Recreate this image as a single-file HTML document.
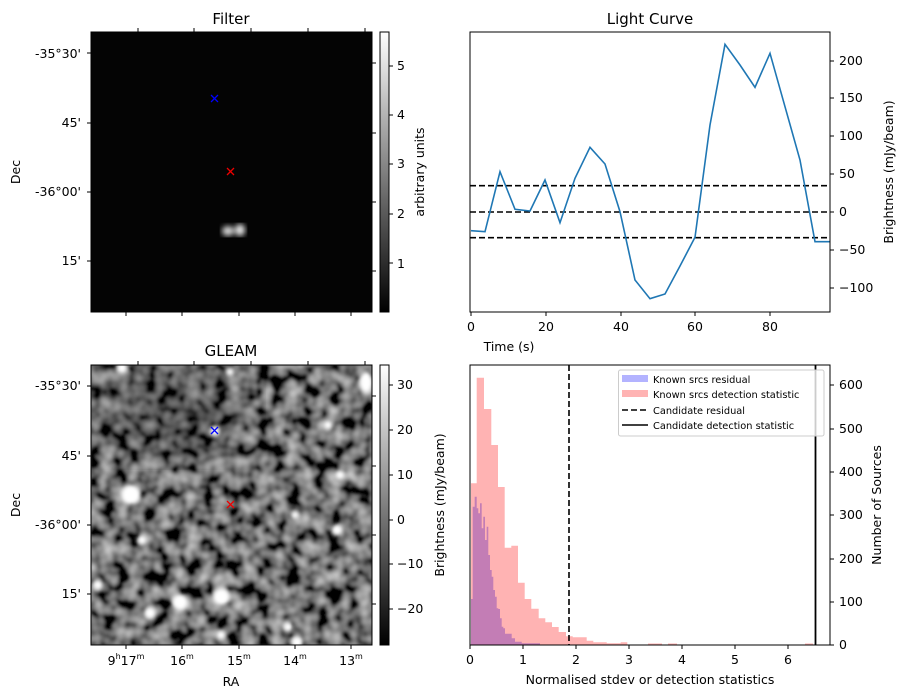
<!DOCTYPE html>
<html><head><meta charset="utf-8"><style>
html,body{margin:0;padding:0;background:#fff;}
svg{display:block;font-family:"DejaVu Sans","Liberation Sans",sans-serif;}
</style></head><body>
<svg width="907" height="699" viewBox="0 0 907 699" xmlns="http://www.w3.org/2000/svg">
<defs>
<linearGradient id="gcb" x1="0" y1="1" x2="0" y2="0"><stop offset="0" stop-color="#000"/><stop offset="1" stop-color="#fff"/></linearGradient>
<filter id="turb" x="0" y="0" width="100%" height="100%">
<feTurbulence type="fractalNoise" baseFrequency="0.07" numOctaves="2" seed="3" result="t"/>
<feColorMatrix in="t" type="matrix" values="1.1 0 0 0 -0.38  1.1 0 0 0 -0.38  1.1 0 0 0 -0.38  0 0 0 0 1" result="c"/>
<feGaussianBlur in="c" stdDeviation="1"/>
</filter>
<filter id="blur2"><feGaussianBlur stdDeviation="2"/></filter>
<filter id="blur3"><feGaussianBlur stdDeviation="3"/></filter>
<filter id="blur20"><feGaussianBlur stdDeviation="20"/></filter>
<clipPath id="cg"><rect x="91" y="365" width="281" height="280"/></clipPath>
</defs>

<!-- ===== Filter panel ===== -->
<text x="231" y="24" font-size="15" text-anchor="middle">Filter</text>
<rect x="91" y="32" width="281" height="280" fill="#040404"/>
<g filter="url(#blur3)">
<ellipse cx="228" cy="231" rx="6" ry="5" fill="#ddd"/>
<ellipse cx="240" cy="230" rx="5" ry="6" fill="#eee"/>
</g>
<rect x="91" y="32" width="281" height="280" fill="none" stroke="#000" stroke-width="1"/>
<g stroke="#000">
<line x1="138" y1="32" x2="138" y2="28"/><line x1="194" y1="32" x2="194" y2="28"/><line x1="251" y1="32" x2="251" y2="28"/><line x1="308" y1="32" x2="308" y2="28"/><line x1="365" y1="32" x2="365" y2="28"/>
<line x1="126" y1="312" x2="126" y2="316"/><line x1="182" y1="312" x2="182" y2="316"/><line x1="239" y1="312" x2="239" y2="316"/><line x1="295" y1="312" x2="295" y2="316"/><line x1="351" y1="312" x2="351" y2="316"/>
<line x1="91" y1="53" x2="87" y2="53"/><line x1="91" y1="123" x2="87" y2="123"/><line x1="91" y1="192" x2="87" y2="192"/><line x1="91" y1="261" x2="87" y2="261"/>
<line x1="372" y1="63" x2="376" y2="63"/><line x1="372" y1="133" x2="376" y2="133"/><line x1="372" y1="202" x2="376" y2="202"/><line x1="372" y1="271" x2="376" y2="271"/>
</g>
<g font-size="12.5" text-anchor="end">
<text x="81" y="58">-35°30'</text><text x="81" y="127">45'</text><text x="81" y="196">-36°00'</text><text x="81" y="265">15'</text>
</g>
<text transform="translate(20,172) rotate(-90)" font-size="12.5" text-anchor="middle">Dec</text>
<g stroke-width="1.3" fill="none">
<path d="M211,95 l7,7 M218,95 l-7,7" stroke="#00f"/>
<path d="M227,168 l7,7 M234,168 l-7,7" stroke="#e00"/>
</g>
<rect x="380" y="32" width="9" height="280" fill="url(#gcb)" stroke="#000"/>
<g stroke="#000"><line x1="389" y1="66" x2="393" y2="66"/><line x1="389" y1="115" x2="393" y2="115"/><line x1="389" y1="164" x2="393" y2="164"/><line x1="389" y1="214" x2="393" y2="214"/><line x1="389" y1="263" x2="393" y2="263"/></g>
<g font-size="12.5"><text x="397" y="70">5</text><text x="397" y="119">4</text><text x="397" y="168">3</text><text x="397" y="218">2</text><text x="397" y="268">1</text></g>
<text transform="translate(424,172) rotate(-90)" font-size="12.5" text-anchor="middle">arbitrary units</text>

<!-- ===== GLEAM panel ===== -->
<text x="231" y="356" font-size="15" text-anchor="middle">GLEAM</text>
<g clip-path="url(#cg)">
<rect x="91" y="365" width="281" height="280" fill="#555"/>
<rect x="91" y="365" width="281" height="280" filter="url(#turb)"/>
<ellipse cx="170" cy="410" rx="80" ry="50" fill="#000" opacity="0.25" filter="url(#blur20)"/>
<g fill="#fff" filter="url(#blur2)">
<circle cx="131" cy="495" r="10"/><circle cx="180" cy="602" r="8"/><circle cx="221" cy="597" r="9"/>
<circle cx="150" cy="613" r="6"/><ellipse cx="366" cy="382" rx="7" ry="11"/><circle cx="337" cy="530" r="6"/>
<circle cx="328" cy="425" r="5"/><circle cx="340" cy="475" r="5"/><circle cx="215" cy="431" r="5"/>
<circle cx="98" cy="585" r="5"/><circle cx="288" cy="627" r="5"/><circle cx="297" cy="642" r="6"/>
<circle cx="221" cy="635" r="5"/><circle cx="295" cy="515" r="4"/><circle cx="142" cy="540" r="5"/>
<circle cx="122" cy="368" r="6"/><circle cx="230" cy="372" r="4"/>
</g>
</g>
<rect x="91" y="365" width="281" height="280" fill="none" stroke="#000"/>
<g stroke="#000">
<line x1="138" y1="365" x2="138" y2="361"/><line x1="194" y1="365" x2="194" y2="361"/><line x1="251" y1="365" x2="251" y2="361"/><line x1="308" y1="365" x2="308" y2="361"/><line x1="365" y1="365" x2="365" y2="361"/>
<line x1="126" y1="645" x2="126" y2="649"/><line x1="182" y1="645" x2="182" y2="649"/><line x1="239" y1="645" x2="239" y2="649"/><line x1="295" y1="645" x2="295" y2="649"/><line x1="351" y1="645" x2="351" y2="649"/>
<line x1="91" y1="386" x2="87" y2="386"/><line x1="91" y1="456" x2="87" y2="456"/><line x1="91" y1="525" x2="87" y2="525"/><line x1="91" y1="594" x2="87" y2="594"/>
<line x1="372" y1="396" x2="376" y2="396"/><line x1="372" y1="466" x2="376" y2="466"/><line x1="372" y1="535" x2="376" y2="535"/><line x1="372" y1="604" x2="376" y2="604"/>
</g>
<g font-size="12.5" text-anchor="end">
<text x="81" y="390">-35°30'</text><text x="81" y="460">45'</text><text x="81" y="529">-36°00'</text><text x="81" y="598">15'</text>
</g>
<text transform="translate(20,505) rotate(-90)" font-size="12.5" text-anchor="middle">Dec</text>
<g font-size="12.5" text-anchor="middle">
<text x="126" y="665">9<tspan font-size="8" dy="-6">h</tspan><tspan dy="6">17</tspan><tspan font-size="8" dy="-6">m</tspan></text>
<text x="182" y="665">16<tspan font-size="8" dy="-6">m</tspan></text>
<text x="239" y="665">15<tspan font-size="8" dy="-6">m</tspan></text>
<text x="295" y="665">14<tspan font-size="8" dy="-6">m</tspan></text>
<text x="351" y="665">13<tspan font-size="8" dy="-6">m</tspan></text>
<text x="231" y="686">RA</text>
</g>
<g stroke-width="1.3" fill="none">
<path d="M211,427 l7,7 M218,427 l-7,7" stroke="#00f"/>
<path d="M227,501 l7,7 M234,501 l-7,7" stroke="#e00"/>
</g>
<rect x="380" y="365" width="9" height="280" fill="url(#gcb)" stroke="#000"/>
<g stroke="#000"><line x1="389" y1="385" x2="393" y2="385"/><line x1="389" y1="430" x2="393" y2="430"/><line x1="389" y1="475" x2="393" y2="475"/><line x1="389" y1="520" x2="393" y2="520"/><line x1="389" y1="564" x2="393" y2="564"/><line x1="389" y1="609" x2="393" y2="609"/></g>
<g font-size="12.5"><text x="397" y="389">30</text><text x="397" y="434">20</text><text x="397" y="479">10</text><text x="397" y="524">0</text><text x="397" y="568">−10</text><text x="397" y="613">−20</text></g>
<text transform="translate(444,505) rotate(-90)" font-size="12.5" text-anchor="middle">Brightness (mJy/beam)</text>

<!-- ===== Light curve ===== -->
<text x="650" y="24" font-size="15" text-anchor="middle">Light Curve</text>
<g stroke="#000" stroke-width="1.6" stroke-dasharray="6,3">
<line x1="470" y1="185.7" x2="830" y2="185.7"/><line x1="470" y1="212" x2="830" y2="212"/><line x1="470" y1="237.7" x2="830" y2="237.7"/>
</g>
<polyline fill="none" stroke="#1f77b4" stroke-width="1.6" points="471,230.7 485,231.7 500,171.7 515,209.3 530,211 545,180 560,222.7 575,178.3 590,147.3 605,164 620,211.7 635,280 650,298.7 665,294 680,266 695,237.3 710,125 725,44.3 740,65 755,87.3 770,53.3 785,106.7 800,160 815,241.7 830,241.7"/>
<rect x="470" y="32" width="360" height="280" fill="none" stroke="#000"/>
<g stroke="#000">
<line x1="471" y1="312" x2="471" y2="316"/><line x1="546" y1="312" x2="546" y2="316"/><line x1="621" y1="312" x2="621" y2="316"/><line x1="695" y1="312" x2="695" y2="316"/><line x1="770" y1="312" x2="770" y2="316"/>
<line x1="830" y1="61" x2="834" y2="61"/><line x1="830" y1="98" x2="834" y2="98"/><line x1="830" y1="136" x2="834" y2="136"/><line x1="830" y1="174" x2="834" y2="174"/><line x1="830" y1="212" x2="834" y2="212"/><line x1="830" y1="250" x2="834" y2="250"/><line x1="830" y1="288" x2="834" y2="288"/>
</g>
<g font-size="12.5" text-anchor="middle"><text x="471" y="331">0</text><text x="546" y="331">20</text><text x="621" y="331">40</text><text x="695" y="331">60</text><text x="770" y="331">80</text><text x="509" y="351">Time (s)</text></g>
<g font-size="12.5"><text x="839" y="65">200</text><text x="839" y="102">150</text><text x="839" y="140">100</text><text x="839" y="178">50</text><text x="839" y="216">0</text><text x="839" y="254">−50</text><text x="839" y="292">−100</text></g>
<text transform="translate(893,172) rotate(-90)" font-size="12.5" text-anchor="middle">Brightness (mJy/beam)</text>

<!-- ===== Histogram ===== -->
<path fill="#ffb3b3" d="M471,645 V483.3 H476.7 V377.7 H484 V409 H491.3 V445 H498 V487 H504.7 V547.7 H511.3 V545.7 H518 V582.7 H524.7 V599 H531.3 V608.7 H538.7 V618.3 H545.3 V622.3 H552 V627 H558.7 V632 H566 V636.3 H572.7 V637.3 H586.7 V640.7 H593.3 V642.3 H606.7 V643.3 H620.7 V642.3 H627.3 V645 Z M648,645 V643.5 H662 V645 Z M668,645 V643.5 H677 V645 Z M805,645 V643.5 H813 V645 Z"/>
<path fill="#c37db5" d="M471,645 V599 H472.7 V506.7 H474.7 V496.7 H476.7 V508.3 H478.3 V513.3 H480 V503.3 H481.7 V528.3 H483.3 V516.7 H485 V540 H486.7 V526.7 H488.3 V555 H490 V570 H491.7 V576.7 H493.3 V590 H495 V596.7 H496.7 V608.3 H498.3 V609 H500 V618.3 H501.7 V626.7 H503.3 V628.3 H505 V633.7 H511.7 V638.3 H515 V641.7 H521.7 V643.3 H540 V645 Z"/>
<line x1="569" y1="365" x2="569" y2="645" stroke="#000" stroke-width="1.6" stroke-dasharray="6,3"/>
<line x1="815.5" y1="365" x2="815.5" y2="645" stroke="#000" stroke-width="1.8"/>
<rect x="470" y="365" width="360" height="280" fill="none" stroke="#000"/>
<g stroke="#000">
<line x1="470" y1="645" x2="470" y2="649"/><line x1="523" y1="645" x2="523" y2="649"/><line x1="576" y1="645" x2="576" y2="649"/><line x1="629" y1="645" x2="629" y2="649"/><line x1="682" y1="645" x2="682" y2="649"/><line x1="735" y1="645" x2="735" y2="649"/><line x1="788" y1="645" x2="788" y2="649"/>
<line x1="830" y1="385" x2="834" y2="385"/><line x1="830" y1="429" x2="834" y2="429"/><line x1="830" y1="472" x2="834" y2="472"/><line x1="830" y1="515" x2="834" y2="515"/><line x1="830" y1="559" x2="834" y2="559"/><line x1="830" y1="602" x2="834" y2="602"/><line x1="830" y1="645" x2="834" y2="645"/>
</g>
<g font-size="12.5" text-anchor="middle"><text x="470" y="664">0</text><text x="523" y="664">1</text><text x="576" y="664">2</text><text x="629" y="664">3</text><text x="682" y="664">4</text><text x="735" y="664">5</text><text x="788" y="664">6</text><text x="650" y="684">Normalised stdev or detection statistics</text></g>
<g font-size="12.5"><text x="839" y="389">600</text><text x="839" y="433">500</text><text x="839" y="476">400</text><text x="839" y="519">300</text><text x="839" y="563">200</text><text x="839" y="606">100</text><text x="839" y="649">0</text></g>
<text transform="translate(881,505) rotate(-90)" font-size="12.5" text-anchor="middle">Number of Sources</text>
<!-- legend -->
<rect x="618.5" y="370" width="205.5" height="66" rx="2" fill="#fff" fill-opacity="0.8" stroke="#ccc"/>
<rect x="622" y="375" width="26" height="7" fill="#b3b3ff"/>
<rect x="622" y="390" width="26" height="7" fill="#ffb3b3"/>
<line x1="622" y1="410" x2="648" y2="410" stroke="#000" stroke-width="1.6" stroke-dasharray="6,3"/>
<line x1="622" y1="425" x2="648" y2="425" stroke="#000" stroke-width="1.6"/>
<g font-size="9.8"><text x="653" y="383">Known srcs residual</text><text x="653" y="398">Known srcs detection statistic</text><text x="653" y="414">Candidate residual</text><text x="653" y="429">Candidate detection statistic</text></g>
</svg>
</body></html>
